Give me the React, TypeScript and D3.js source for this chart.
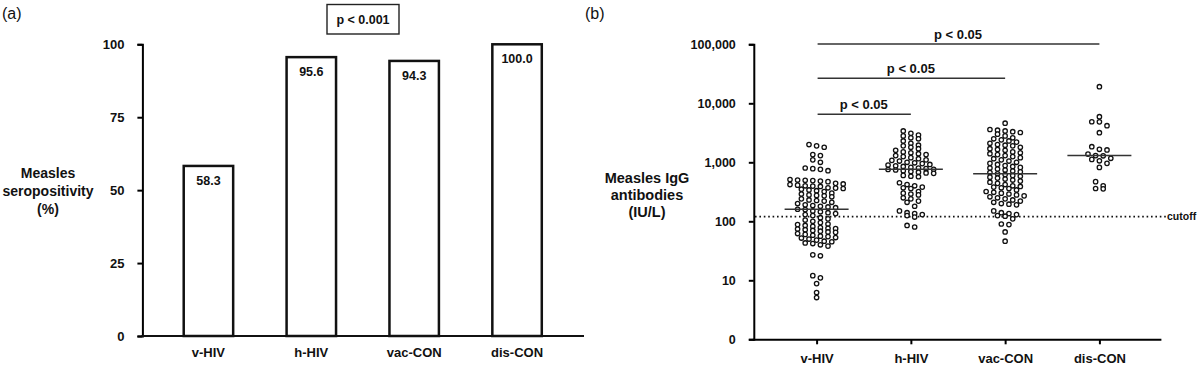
import React, { useEffect, useRef } from 'react';
import * as d3 from 'd3';

// panel (a) seropositivity
const groups = ['v-HIV', 'h-HIV', 'vac-CON', 'dis-CON'];
const seropositivity = [58.3, 95.6, 94.3, 100.0];
const pctTicks = [0, 25, 50, 75, 100];

// panel (b) IgG titres (IU/L)
const vHiv = [
    2000, 1900, 1800, 1350, 1300, 1100, 1000, 800, 780, 760, 720,
    510, 500, 495, 490, 480, 470, 440, 430, 420, 410, 400, 395, 390,
    370, 365, 360, 350, 340, 330, 320, 300, 290, 280, 275, 270, 260,
    240, 230, 225, 220, 210, 200, 190, 185, 180, 175, 170,
    160, 158, 150, 145, 140, 135, 130, 125,
    115, 110, 105, 100, 95, 90, 88, 85, 82, 78, 76, 75, 74, 72, 70, 68,
    66, 65, 62, 60, 58, 56, 55, 53, 52, 50, 48, 46, 45, 43, 42, 40, 38,
    27, 26, 12, 11, 8.8, 6.2, 5.1,
];
const hHiv = [
    3400, 3100, 2900, 2800, 2600, 2500, 2300, 2100, 1950, 1900, 1800, 1700,
    1600, 1500, 1450, 1400, 1350, 1300, 1250, 1200, 1150, 1100, 1080, 1050,
    1000, 980, 950, 920, 900, 870, 850, 820, 800, 780, 760, 755,
    740, 720, 700, 680, 660, 650, 600, 580, 570, 450, 420, 400, 380, 370,
    360, 320, 300, 290, 280, 250, 240, 220, 210, 180, 150, 140, 135, 130,
    125, 118, 85, 80,
];
const vacCon = [
    4600, 3600, 3500, 3400, 3300, 3200, 3000, 2800, 2600, 2500, 2400, 2300,
    2200, 2100, 2000, 1950, 1900, 1800, 1700, 1650, 1600, 1500, 1450, 1400,
    1350, 1300, 1250, 1200, 1150, 1100, 1050, 1000, 960, 920, 880, 850, 820,
    800, 770, 740, 710, 690, 670, 640,
    620, 600, 580, 560, 540, 520, 500, 480, 460, 440, 420, 400, 390, 380,
    370, 360, 340, 320, 310, 300, 290, 280, 270, 260, 250, 240, 230, 220,
    210, 200, 195, 190, 150, 140, 135, 130, 125, 122, 110, 90, 88, 66, 46,
];
const disCon = [
    19100, 5930, 4870, 4850, 4170, 3175, 1840, 1660, 1620, 1380, 1300, 1290,
    1170, 1120, 1060, 960, 820, 470, 400, 360, 355,
];
const titres = [vHiv, hHiv, vacCon, disCon];
const medians = [160, 760, 640, 1300];
const cutoff = 120;
const igTicks = [1, 10, 100, 1000, 10000, 100000];
const igTickLabels = ['0', '10', '100', '1,000', '10,000', '100,000'];
const comparisons = [
    { from: 'v-HIV', to: 'dis-CON', label: 'p < 0.05' },
    { from: 'v-HIV', to: 'vac-CON', label: 'p < 0.05' },
    { from: 'v-HIV', to: 'h-HIV', label: 'p < 0.05' },
];

const FONT = 'Liberation Sans, Arial, Helvetica, sans-serif';

const App = () => {
    const ref = useRef<SVGSVGElement>(null);

    useEffect(() => {
        const svg = d3.select(ref.current);
        svg.selectAll('*').remove();
        svg.attr('font-family', FONT).attr('fill', '#111');

        // ---------- panel (a) ----------
        const a = svg.append('g');
        const xa = d3
            .scaleBand()
            .domain(groups)
            .range([156.75, 568.75])
            .paddingInner(0.495)
            .paddingOuter(0.25);
        const ya = d3.scaleLinear().domain([0, 100]).range([336, 44.3]);

        a.append('text').attr('x', 2).attr('y', 19).text('(a)')
            .style('font-size', '16px');

        a.append('rect')
            .attr('x', 327).attr('y', 4.5).attr('width', 72).attr('height', 29.5)
            .attr('fill', 'none').attr('stroke', '#222').attr('stroke-width', 1.4);
        a.append('text').attr('x', 363).attr('y', 23.5).attr('text-anchor', 'middle')
            .attr('font-weight', 'bold').style('font-size', '12.5px').text('p < 0.001');

        a.append('g')
            .selectAll('rect')
            .data(seropositivity)
            .join('rect')
            .attr('x', (d, i) => xa(groups[i])! + 1.25)
            .attr('y', d => ya(d))
            .attr('width', xa.bandwidth() - 2.5)
            .attr('height', d => ya(0) - ya(d))
            .attr('fill', 'white')
            .attr('stroke', '#111')
            .attr('stroke-width', 2.5);
        a.append('g')
            .selectAll('text')
            .data(seropositivity)
            .join('text')
            .attr('x', (d, i) => xa(groups[i])! + xa.bandwidth() / 2)
            .attr('y', d => ya(d) + 19)
            .attr('text-anchor', 'middle')
            .attr('font-weight', 'bold')
            .style('font-size', '12.5px')
            .text(d => d.toFixed(1));

        const yAxisA = a.append('g')
            .attr('transform', 'translate(142.4,0)')
            .call(d3.axisLeft(ya).tickValues(pctTicks).tickSize(5).tickPadding(13));
        yAxisA.select('.domain').attr('stroke-width', 2);
        yAxisA.selectAll('line').attr('stroke-width', 2);
        yAxisA.selectAll('text').attr('font-family', FONT).attr('font-weight', 'bold')
            .style('font-size', '13px').attr('fill', '#111');

        a.append('line')
            .attr('x1', 141.4).attr('x2', 584).attr('y1', ya(0)).attr('y2', ya(0))
            .attr('stroke', '#111').attr('stroke-width', 2);
        a.append('g')
            .selectAll('text')
            .data(groups)
            .join('text')
            .attr('x', d => xa(d)! + xa.bandwidth() / 2)
            .attr('y', 356.5)
            .attr('text-anchor', 'middle')
            .attr('font-weight', 'bold')
            .style('font-size', '13px')
            .text(d => d);

        a.append('text')
            .attr('text-anchor', 'middle').attr('font-weight', 'bold').style('font-size', '14px')
            .selectAll('tspan')
            .data(['Measles', 'seropositivity', '(%)'])
            .join('tspan')
            .attr('x', 48).attr('y', (d, i) => 177.5 + i * 18.3)
            .text(d => d);

        // ---------- panel (b) ----------
        const b = svg.append('g');
        const xb = d3.scalePoint().domain(groups).range([816.6, 1099.4]);
        const yb = d3.scaleLog().domain([1, 100000]).range([339.3, 44.3]);

        b.append('text').attr('x', 585).attr('y', 19).text('(b)')
            .style('font-size', '16px');

        // significance bars
        comparisons.forEach((c, i) => {
            const ly = [44, 78.3, 114.3][i];
            const x1 = xb(c.from)!;
            const x2 = xb(c.to)!;
            b.append('line')
                .attr('x1', x1 + 1).attr('x2', x2).attr('y1', ly).attr('y2', ly)
                .attr('stroke', '#333').attr('stroke-width', 1.4);
            b.append('text')
                .attr('x', (x1 + x2) / 2).attr('y', ly - 5.5)
                .attr('text-anchor', 'middle').attr('font-weight', 'bold')
                .style('font-size', '13px')
                .text(c.label);
        });

        // cutoff
        b.append('line')
            .attr('x1', 755).attr('x2', 1166).attr('y1', yb(cutoff)).attr('y2', yb(cutoff))
            .attr('stroke', '#111').attr('stroke-width', 1.6)
            .attr('stroke-dasharray', '1.6,2.8');
        b.append('text')
            .attr('x', 1167).attr('y', yb(cutoff) + 3.8)
            .attr('font-weight', 'bold').style('font-size', '10.5px')
            .text('cutoff');

        // swarm layout, Prism-like: bin on pixel rows, spread each row
        const colStep = 7.6;
        const binH = 4.4;
        titres.forEach((vals, gi) => {
            const cx = xb(groups[gi])!;
            const sorted = vals.slice().sort((p, q) => q - p);
            const bins: number[][] = [];
            let cur: number[] = [];
            let startY: number | null = null;
            sorted.forEach(v => {
                const py = yb(v);
                if (startY === null || py - startY > binH) {
                    if (cur.length) bins.push(cur);
                    cur = [];
                    startY = py;
                }
                cur.push(v);
            });
            if (cur.length) bins.push(cur);
            const pts: { x: number; v: number }[] = [];
            bins.forEach(bin => {
                const n = bin.length;
                bin.forEach((v, k) => {
                    const off = (k - (n - 1) / 2) * colStep;
                    pts.push({ x: cx + off, v });
                });
            });
            b.append('g')
                .selectAll('circle')
                .data(pts)
                .join('circle')
                .attr('cx', d => d.x)
                .attr('cy', d => yb(d.v))
                .attr('r', 2.2)
                .attr('fill', 'white')
                .attr('stroke', '#111')
                .attr('stroke-width', 1.3);
        });

        // medians
        b.append('g')
            .selectAll('line')
            .data(medians)
            .join('line')
            .attr('x1', (d, i) => xb(groups[i])! - 32)
            .attr('x2', (d, i) => xb(groups[i])! + 32)
            .attr('y1', d => yb(d))
            .attr('y2', d => yb(d))
            .attr('stroke', '#333')
            .attr('stroke-width', 1.5);

        const yAxisB = b.append('g')
            .attr('transform', 'translate(753.8,0)')
            .call(
                d3.axisLeft(yb)
                    .tickValues(igTicks)
                    .tickFormat((d, i) => igTickLabels[i])
                    .tickSize(5)
                    .tickPadding(13)
            );
        yAxisB.select('.domain').attr('stroke-width', 2);
        yAxisB.selectAll('line').attr('stroke-width', 2);
        yAxisB.selectAll('text').attr('font-family', FONT).attr('font-weight', 'bold')
            .style('font-size', '12.5px').attr('fill', '#111');

        const xAxisB = b.append('g')
            .attr('transform', 'translate(0,339.3)')
            .call(d3.axisBottom(xb).tickSize(5).tickSizeOuter(0).tickPadding(9));
        xAxisB.select('.domain').attr('d', 'M752.8,0.5H1161.4').attr('stroke-width', 2);
        xAxisB.selectAll('line').attr('stroke-width', 2);
        xAxisB.selectAll('text').attr('font-family', FONT).attr('font-weight', 'bold')
            .style('font-size', '13px').attr('fill', '#111');

        b.append('text')
            .attr('text-anchor', 'middle').attr('font-weight', 'bold').style('font-size', '14.5px')
            .selectAll('tspan')
            .data(['Measles IgG', 'antibodies', '(IU/L)'])
            .join('tspan')
            .attr('x', 647).attr('y', (d, i) => 182.5 + i * 17.4)
            .text(d => d);
    }, []);

    return (
        <div>
            <svg
                ref={ref}
                width={1200}
                height={366}
                style={{ position: 'absolute', left: 0, top: 0, background: 'white' }}
            ></svg>
        </div>
    );
};

export default App;
